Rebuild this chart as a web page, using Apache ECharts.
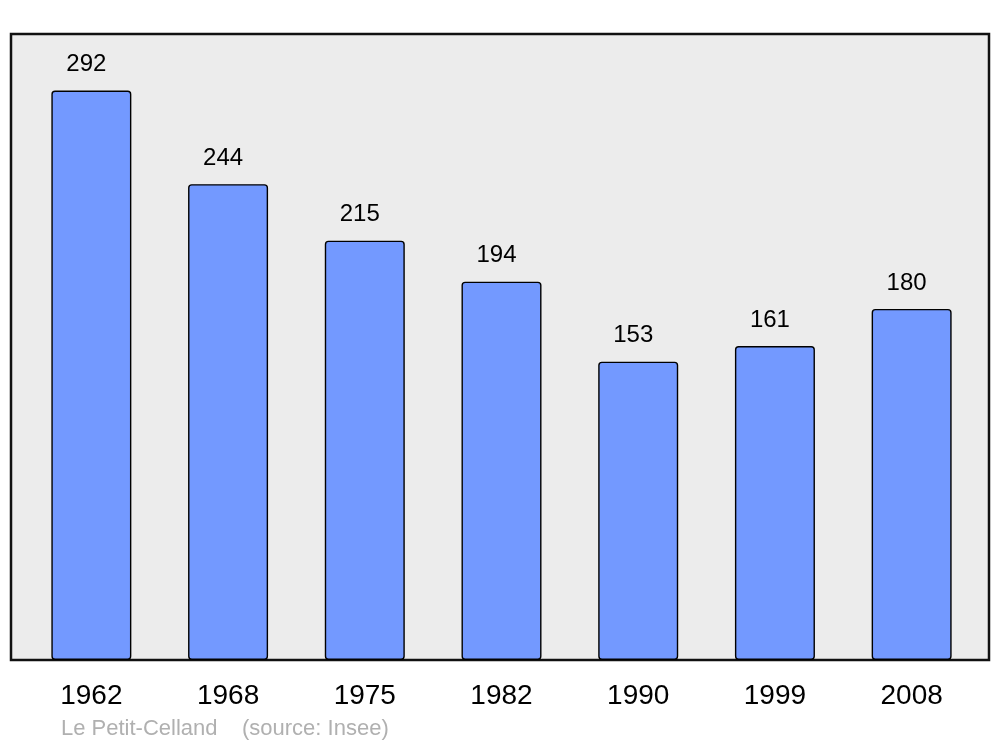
<!DOCTYPE html>
<html>
<head>
<meta charset="utf-8">
<script src="https://cdn.jsdelivr.net/npm/echarts@6/dist/echarts.min.js"></script>
<style>html,body{margin:0;padding:0;background:#fff;}#c{width:1000px;height:747px;}</style>
</head>
<body>
<div id="c"></div>
<script>
const years = ['1962', '1968', '1975', '1982', '1990', '1999', '2008'];
const population = [292, 244, 215, 194, 153, 161, 180];
const footer = 'Le Petit-Celland    (source: Insee)';

const chart = echarts.init(document.getElementById('c'), null, {renderer: 'canvas'});
chart.setOption({
  animation: false,
  backgroundColor: '#ffffff',
  textStyle: {fontFamily: 'Liberation Sans, Arial, sans-serif'},
  grid: [
    {left: 11, right: 11, top: 34, bottom: 87, show: true, backgroundColor: '#ececec', borderColor: '#111111', borderWidth: 2.5, z: 0},
    {left: 23, right: 20, top: 34, bottom: 87}
  ],
  xAxis: [
    {gridIndex: 0, type: 'value', show: false, min: 0, max: 1},
    {gridIndex: 1, type: 'category', data: years, axisLine: {show: false}, axisTick: {show: false},
     axisLabel: {color: '#000', fontSize: 28, margin: 22, fontFamily: 'Liberation Sans, Arial, sans-serif'}}
  ],
  yAxis: [
    {gridIndex: 0, type: 'value', show: false, min: 0, max: 1},
    {gridIndex: 1, type: 'value', min: 0, max: 321, show: false}
  ],
  series: [{
    type: 'bar',
    xAxisIndex: 1, yAxisIndex: 1,
    data: population,
    barWidth: 80,
    itemStyle: {color: '#7399ff', borderColor: '#000', borderWidth: 1.4, borderRadius: 3},
    label: {show: true, position: 'top', distance: 14, offset: [-5, 0], color: '#000', fontSize: 24,
            fontFamily: 'Liberation Sans, Arial, sans-serif'}
  }],
  graphic: [{
    type: 'text', left: 61, top: 718,
    style: {text: footer, fill: '#b0b0b0', fontSize: 22, fontFamily: 'Liberation Sans, Arial, sans-serif'}
  }]
});
</script>
</body>
</html>
